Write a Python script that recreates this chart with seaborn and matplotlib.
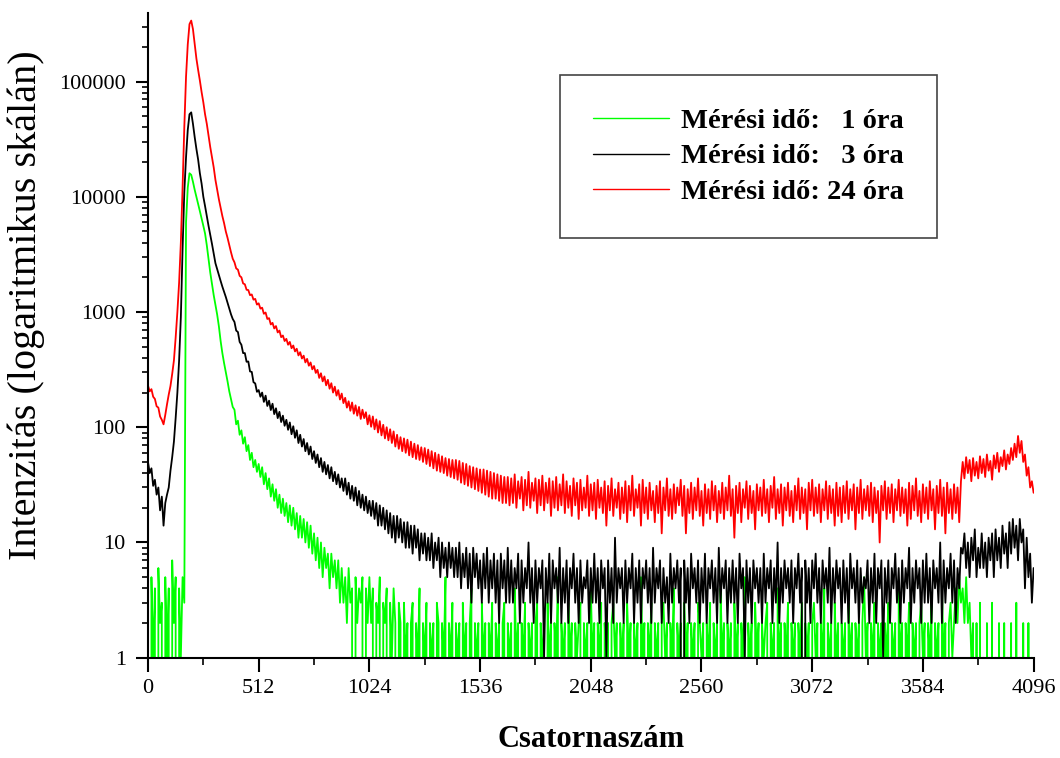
import numpy as np
import matplotlib
matplotlib.use("Agg")
import matplotlib.pyplot as plt
import seaborn as sns
from matplotlib.ticker import LogLocator, FuncFormatter, NullFormatter

# every 8th channel of the 4096-channel spectrum
channels = list(range(0, 4097, 8))

red_counts = [
    230, 205, 214, 184, 176, 152, 148, 124, 116, 106,
    128, 158, 192, 228, 290, 380, 600, 1000, 1800, 4000,
    12000, 40000, 110000, 210000, 315000, 338000, 285000, 214000, 158000, 126000,
    102000, 81000, 66000, 52000, 43000, 34000, 27000, 22000, 18000, 14000,
    11500, 9500, 8000, 6800, 5900, 5000, 4400, 3800, 3300, 2900,
    2700, 2390, 2330, 2060, 2000, 1770, 1740, 1560, 1550, 1400, 1420, 1280, 1300, 1160, 1190, 1070,
    1090, 965, 990, 870, 885, 780, 805, 720, 755, 665, 690, 605, 625, 560, 585, 520,
    550, 485, 512, 455, 480, 420, 448, 395, 418, 365, 392, 342, 365, 318, 340, 296,
    315, 268, 294, 250, 276, 231, 258, 216, 241, 200, 225, 188, 210, 174, 196, 162,
    180, 148, 168, 139, 164, 131, 155, 126, 150, 118, 142, 120, 135, 106, 127, 101,
    124, 96, 117, 90, 113, 85, 105, 80, 100, 77, 96, 73, 92, 68, 86, 65,
    82, 62, 80, 60, 78, 57, 75, 55, 72, 53, 70, 52, 67, 50, 66, 48,
    64, 46, 62, 44, 60, 42, 58, 41, 56, 40, 54, 38, 53, 37, 52, 36,
    52, 35, 51, 33, 49, 32, 48, 31, 46, 30, 45, 29, 44, 28, 43, 27,
    43, 26, 42, 25, 41, 24, 40, 24, 39, 23, 38, 22, 37, 22, 37, 21,
    36, 22, 39, 20, 34, 24, 37, 19, 35, 21, 41, 20, 33, 23, 36, 18,
    35, 21, 38, 19, 33, 22, 36, 17, 34, 20, 37, 19, 32, 21, 39, 18,
    34, 20, 31, 17, 36, 21, 33, 16, 35, 19, 30, 20, 38, 17, 32, 19,
    33, 16, 35, 20, 30, 18, 34, 14, 31, 19, 36, 17, 29, 20, 33, 16,
    30, 18, 34, 15, 31, 19, 38, 17, 29, 20, 32, 14, 35, 18, 30, 16,
    33, 19, 28, 15, 31, 18, 34, 12, 30, 19, 36, 17, 29, 16, 32, 18,
    30, 21, 35, 17, 31, 12, 29, 18, 33, 16, 30, 19, 36, 17, 28, 14,
    32, 18, 29, 16, 34, 19, 31, 15, 28, 18, 33, 16, 30, 19, 38, 17,
    29, 11, 31, 18, 33, 15, 29, 20, 34, 16, 31, 18, 28, 13, 32, 19,
    30, 17, 35, 18, 29, 15, 31, 20, 37, 16, 29, 18, 32, 14, 30, 19,
    33, 17, 28, 15, 31, 19, 36, 16, 30, 18, 29, 13, 33, 19, 35, 17,
    30, 18, 32, 15, 29, 19, 34, 16, 31, 18, 29, 14, 33, 17, 30, 15,
    31, 18, 34, 16, 29, 19, 32, 13, 30, 18, 35, 16, 29, 19, 31, 17,
    33, 15, 30, 18, 28, 10, 31, 19, 34, 16, 30, 18, 32, 15, 29, 19,
    35, 17, 30, 18, 29, 14, 33, 16, 31, 19, 36, 17, 28, 15, 32, 18,
    30, 16, 34, 19, 29, 13, 31, 18, 35, 17, 30, 12, 33, 18, 29, 16,
    32, 18, 30, 15, 34, 50, 36, 55, 40, 52, 34, 54, 38, 50, 36, 56,
    40, 53, 37, 58, 42, 51, 35, 57, 44, 60, 41, 55, 46, 63, 43, 58,
    48, 66, 52, 72, 55, 84, 60, 76, 50, 58, 38, 45, 30, 34, 27,
]

# 3 h measurement
black_counts = [
    50, 40, 44, 31, 35, 26, 30, 19, 25, 14,
    22, 26, 30, 42, 55, 75, 120, 200, 380, 900,
    3500, 11000, 22000, 38000, 52000, 54000, 43000, 33000, 26000, 21000,
    16000, 13000, 10000, 8300, 6800, 5600, 4700, 3900, 3200, 2650,
    2350, 2100, 1860, 1660, 1500, 1350, 1200, 1070, 955, 870,
    820, 690, 670, 550, 520, 440, 440, 370, 372, 305, 302, 246, 240, 203, 210, 184,
    200, 166, 188, 153, 170, 141, 160, 130, 146, 120, 136, 111, 126, 103, 116, 95,
    110, 87, 102, 81, 94, 73, 86, 68, 79, 62, 73, 58, 68, 53, 62, 49,
    58, 45, 54, 41, 50, 39, 47, 36, 45, 34, 41, 32, 39, 30, 36, 28,
    36, 26, 33, 24, 31, 23, 30, 21, 28, 20, 26, 19, 25, 18, 23, 17,
    23, 16, 22, 14, 21, 14, 20, 13, 19, 12, 18, 11, 17, 10, 17, 11,
    16, 10, 15, 9, 15, 9, 14, 8, 14, 9, 13, 7, 12, 8, 12, 7,
    11, 7, 12, 6, 10, 7, 11, 5, 10, 6, 9, 5, 10, 6, 9, 5,
    9, 5, 10, 4, 8, 5, 9, 4, 8, 3, 9, 5, 8, 4, 7, 3,
    8, 4, 9, 3, 7, 4, 8, 3, 7, 2, 8, 4, 7, 3, 9, 3,
    7, 3, 6, 4, 8, 2, 7, 3, 6, 4, 10, 3, 6, 2, 7, 3,
    6, 4, 7, 1, 6, 3, 8, 2, 7, 4, 6, 3, 9, 2, 6, 3,
    7, 2, 6, 4, 8, 3, 6, 2, 7, 3, 5, 4, 7, 2, 6, 3,
    8, 3, 6, 2, 7, 4, 6, 1, 7, 3, 6, 2, 11, 3, 6, 4,
    6, 2, 7, 3, 6, 4, 8, 2, 6, 3, 7, 2, 6, 4, 7, 3,
    6, 2, 9, 3, 6, 4, 7, 2, 6, 3, 5, 2, 8, 3, 6, 4,
    7, 3, 6, 0, 7, 3, 6, 2, 8, 4, 6, 3, 7, 2, 6, 3,
    8, 2, 6, 4, 7, 3, 6, 2, 9, 3, 6, 4, 7, 2, 6, 3,
    7, 3, 6, 2, 8, 4, 6, 1, 7, 3, 6, 2, 7, 4, 6, 3,
    6, 2, 8, 3, 6, 4, 7, 2, 6, 3, 10, 2, 6, 3, 7, 4,
    6, 3, 7, 2, 6, 4, 8, 3, 6, 0, 7, 3, 6, 2, 7, 4,
    8, 3, 6, 2, 7, 4, 6, 3, 9, 2, 6, 3, 7, 4, 6, 2,
    7, 3, 6, 2, 8, 4, 6, 3, 7, 2, 6, 3, 5, 4, 7, 2,
    6, 3, 8, 2, 6, 4, 7, 1, 6, 3, 7, 2, 6, 4, 8, 3,
    6, 2, 7, 3, 6, 4, 9, 2, 6, 3, 7, 4, 6, 2, 7, 3,
    8, 3, 6, 2, 7, 4, 6, 3, 10, 2, 7, 3, 6, 4, 8, 3,
    7, 2, 6, 4, 9, 8, 12, 6, 10, 5, 11, 7, 13, 5, 9, 6,
    12, 6, 10, 5, 11, 7, 12, 5, 13, 7, 11, 6, 14, 8, 12, 6,
    15, 8, 16, 9, 14, 7, 16, 10, 13, 4, 11, 5, 8, 3, 6,
]

# 1 h measurement
green_counts = [
    3, 0, 5, 1, 4, 0, 6, 2, 3, 0,
    5, 1, 4, 0, 7, 2, 5, 0, 4, 1,
    5, 3, 6000, 12000, 16000, 15500, 13500, 11500, 10000, 8700,
    7500, 6500, 5600, 4800, 3800, 2900, 2200, 1750, 1400, 1150,
    950, 750, 560, 440, 360, 300, 250, 205, 175, 150,
    142, 106, 114, 86, 94, 72, 82, 62, 70, 52, 60, 45, 52, 41, 48, 37,
    45, 32, 40, 29, 36, 25, 32, 23, 29, 20, 26, 18, 24, 17, 22, 15,
    21, 14, 20, 13, 18, 11, 17, 11, 16, 10, 15, 9, 14, 8, 12, 7,
    11, 6, 10, 5, 9, 6, 8, 4, 8, 5, 7, 4, 7, 3, 6, 3,
    5, 2, 6, 3, 4, 0, 5, 2, 4, 3, 5, 0, 4, 2, 5, 2,
    4, 0, 3, 2, 5, 0, 3, 2, 4, 0, 3, 1, 4, 2, 0, 3,
    2, 0, 3, 1, 2, 0, 2, 3, 0, 2, 1, 4, 0, 2, 1, 3,
    0, 2, 1, 2, 0, 3, 2, 0, 2, 1, 5, 0, 2, 1, 3, 0,
    2, 1, 2, 0, 3, 1, 2, 0, 2, 4, 0, 2, 1, 2, 0, 3,
    1, 2, 0, 2, 1, 3, 0, 2, 1, 2, 0, 2, 3, 0, 2, 1,
    2, 0, 4, 1, 2, 0, 2, 1, 3, 0, 2, 1, 2, 0, 2, 3,
    0, 2, 1, 2, 0, 3, 1, 2, 0, 2, 1, 5, 0, 2, 1, 2,
    0, 3, 1, 2, 0, 2, 1, 2, 3, 0, 2, 1, 2, 0, 4, 1,
    2, 0, 2, 1, 3, 0, 2, 1, 2, 0, 2, 3, 1, 2, 0, 2,
    1, 2, 0, 3, 1, 2, 0, 2, 1, 2, 0, 5, 1, 2, 0, 2,
    1, 3, 0, 2, 1, 2, 0, 2, 3, 1, 2, 0, 2, 1, 4, 0,
    2, 1, 2, 0, 3, 1, 2, 0, 2, 1, 2, 0, 3, 2, 1, 2,
    0, 2, 1, 3, 0, 2, 1, 2, 0, 4, 1, 2, 0, 2, 1, 2,
    0, 3, 1, 2, 0, 2, 1, 5, 0, 2, 1, 2, 0, 3, 1, 2,
    0, 2, 1, 2, 3, 0, 2, 1, 2, 0, 4, 1, 2, 0, 2, 1,
    3, 0, 2, 1, 2, 0, 2, 1, 3, 0, 2, 1, 2, 0, 2, 3,
    1, 2, 0, 2, 1, 4, 0, 2, 1, 2, 0, 3, 1, 2, 0, 2,
    1, 2, 0, 3, 1, 2, 0, 2, 1, 2, 0, 2, 5, 1, 2, 0,
    2, 1, 3, 0, 2, 1, 2, 0, 2, 1, 3, 0, 2, 1, 2, 0,
    4, 1, 2, 0, 2, 1, 3, 0, 2, 1, 2, 0, 2, 3, 1, 2,
    0, 2, 1, 3, 0, 2, 1, 2, 0, 4, 1, 2, 0, 2, 3, 1,
    2, 4, 2, 5, 3, 4, 2, 5, 2, 3, 1, 2, 0, 2, 0, 3,
    0, 1, 0, 2, 0, 0, 3, 0, 1, 0, 2, 0, 0, 2, 0, 1,
    0, 2, 0, 0, 3, 0, 1, 0, 2, 0, 0, 2, 0, 1, 0,
]

labels = ["Mérési idő:   1 óra", "Mérési idő:   3 óra", "Mérési idő: 24 óra"]
colors = ["#00ff00", "#000000", "#ff0000"]

sns.set_style("ticks", {"axes.edgecolor": "black", "xtick.color": "black",
                        "ytick.color": "black", "text.color": "black",
                        "axes.labelcolor": "black"})
plt.rcParams["font.family"] = ["Liberation Serif", "DejaVu Serif"]

fig = plt.figure(figsize=(10.6, 7.58), dpi=100)
ax = fig.add_axes([0.1396, 0.1323, 0.8355, 0.8505])

for counts, label, color in zip([green_counts, black_counts, red_counts], labels, colors):
    sns.lineplot(x=channels, y=counts, color=color, linewidth=1.3, label=label,
                 estimator=None, ax=ax)

ax.set_yscale("log")
ax.set_xlim(0, 4096)
ax.set_ylim(1, 3.93e5)
ax.set_xticks(range(0, 4097, 512))
ax.set_xticks(range(256, 4096, 512), minor=True)
ax.yaxis.set_major_locator(LogLocator(base=10, numticks=10))
ax.yaxis.set_minor_locator(LogLocator(base=10, subs=np.arange(2, 10), numticks=20))
ax.yaxis.set_major_formatter(FuncFormatter(lambda v, _: f"{v:.0f}"))
ax.yaxis.set_minor_formatter(NullFormatter())

sns.despine(ax=ax)
for side in ["left", "bottom"]:
    ax.spines[side].set_linewidth(1.5)

ax.tick_params(axis="both", which="both", direction="out", labelsize=16)
ax.tick_params(axis="x", which="major", length=10, width=1.5, pad=5)
ax.tick_params(axis="x", which="minor", length=5, width=1.2)
ax.tick_params(axis="y", which="major", length=9, width=1.5, pad=7)
ax.tick_params(axis="y", which="minor", length=4, width=1.2)

ax.set_xlabel("Csatornaszám", fontsize=22, fontweight="bold")
ax.xaxis.set_label_coords(0.5, -0.104)
ax.set_ylabel("Intenzitás (logaritmikus skálán)", fontsize=29)
ax.yaxis.set_label_coords(-0.116, 0.547)

leg = ax.legend(loc="upper left", bbox_to_anchor=(0.465, 0.904), borderaxespad=0,
                frameon=True, fancybox=False, edgecolor="#444444", framealpha=1,
                prop={"weight": "bold", "size": 20.5}, handlelength=2.7,
                handletextpad=0.42, labelspacing=0.35, borderpad=1.15)
leg.get_frame().set_linewidth(1.2)
for handle in leg.get_lines():
    handle.set_linewidth(1.0)

fig.savefig("out.png", dpi=100)
